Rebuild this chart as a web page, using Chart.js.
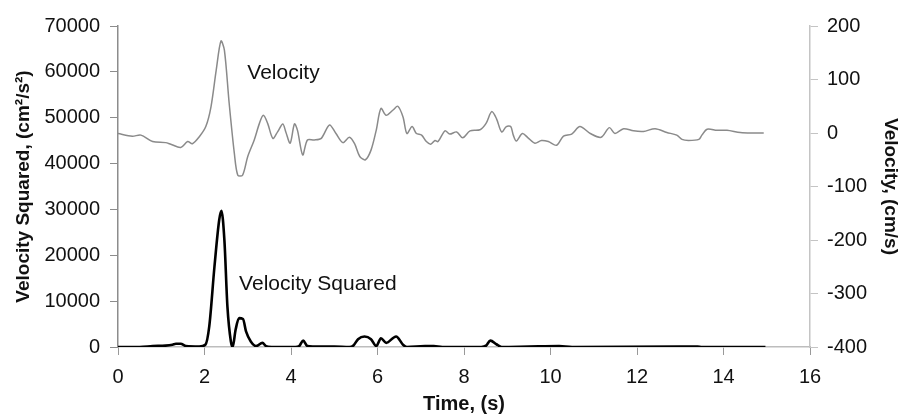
<!DOCTYPE html>
<html>
<head>
<meta charset="utf-8">
<script src="https://cdn.jsdelivr.net/npm/chart.js@4"></script>
<style>
  html, body { margin: 0; padding: 0; background: #fff; }
  #wrap { width: 902px; height: 415px; }
</style>
</head>
<body>
<div id="wrap"><canvas id="grafico" width="902" height="415"></canvas></div>
<script>
// tempo (s) e velocidade (cm/s)
const timeV = [0, 0.33, 0.53, 0.80, 1.10, 1.22, 1.45, 1.61, 1.72, 1.88, 2.03, 2.15, 2.27, 2.38, 2.46, 2.57, 2.69, 2.77, 2.88, 3.00,
    3.15, 3.27, 3.36, 3.46, 3.58, 3.69, 3.81, 3.88, 3.98, 4.08, 4.15, 4.27, 4.38, 4.54, 4.70, 4.89, 5.04, 5.20, 5.35, 5.47,
    5.59, 5.72, 5.85, 5.97, 6.08, 6.20, 6.36, 6.47, 6.59, 6.68, 6.80, 6.90, 7.02, 7.13, 7.23, 7.33, 7.40, 7.56, 7.67, 7.83,
    7.97, 8.14, 8.37, 8.51, 8.64, 8.75, 8.87, 8.98, 9.08, 9.14, 9.21, 9.35, 9.48, 9.64, 9.79, 9.95, 10.14, 10.30, 10.49, 10.68,
    10.92, 11.17, 11.36, 11.49, 11.69, 11.92, 12.15, 12.42, 12.69, 12.92, 13.04, 13.19, 13.43, 13.50, 13.62, 13.85, 14.08, 14.39, 14.66, 14.93]
const velocity = [-1, -6, -4, -16, -18, -21, -27, -16, -20, -7, 12, 49, 117, 172, 155, 56, -38, -79, -79, -44,
    -13, 18, 33, 18, -10, 2, 17, 2, -19, 17, 5, -41, -13, -13, -10, 15, -1, -18, -8, -20,
    -44, -50, -32, 5, 46, 33, 43, 50, 30, -1, 12, -1, -4, -16, -21, -14, -16, 4, -2, 2,
    -9, 4, 6, 18, 40, 27, 2, 12, 12, -4, -15, -1, -9, -19, -14, -16, -23, -6, -2, 12,
    -1, -8, 10, -1, 8, 4, 3, 8, 1, -4, -12, -14, -12, -4, 7, 5, 5, 1, 0, 0]

// tempo (s) e velocidade ao quadrado (cm2/s2)
const timeVS = [0, 0.50, 0.80, 1.10, 1.26, 1.34, 1.45, 1.57, 1.88, 2.02, 2.11, 2.23, 2.34, 2.39, 2.46, 2.53, 2.61, 2.65, 2.72, 2.80,
    2.89, 2.96, 3.07, 3.19, 3.34, 3.42, 3.55, 4.10, 4.19, 4.28, 4.38, 4.50, 5.00, 5.35, 5.45, 5.55, 5.70, 5.85, 5.97, 6.08,
    6.20, 6.43, 6.59, 6.68, 7.10, 7.30, 7.50, 8.40, 8.51, 8.61, 8.75, 8.87, 9.50, 10.20, 10.50, 13.00, 13.40, 13.50, 14.97]
const velocitySquared = [0, 0, 200, 300, 500, 700, 700, 200, 100, 500, 4500, 17500, 27700, 29700, 23300, 8800, 1200, 0, 3800, 6300,
    6100, 3400, 1200, 200, 900, 200, 0, 0, 200, 1400, 200, 100, 100, 0, 400, 1700, 2300, 1700, 200, 1900,
    900, 2300, 500, 0, 200, 200, 0, 0, 300, 1400, 600, 0, 100, 200, 0, 100, 100, 0, 0]

// eixos
const timeTicks = [0, 2, 4, 6, 8, 10, 12, 14, 16]
const vsTicks = [0, 10000, 20000, 30000, 40000, 50000, 60000, 70000]
const vTicks = [-400, -300, -200, -100, 0, 100, 200]

// rotulos dentro do grafico
const notes = [
    { text: 'Velocity', x: 2.99, y: 112, axis: 'y2' },
    { text: 'Velocity Squared', x: 2.80, y: 13600, axis: 'y' }
]

const pontos = (xs, ys) => xs.map((x, i) => ({ x: x, y: ys[i] }))

const fonte = "'Liberation Sans', Arial, sans-serif"

// escreve os rotulos usando as escalas
const rotulos = {
    id: 'rotulos',
    afterDatasetsDraw(chart) {
        const ctx = chart.ctx
        ctx.save()
        ctx.font = '21px ' + fonte
        ctx.fillStyle = '#111'
        ctx.textAlign = 'left'
        ctx.textBaseline = 'middle'
        notes.forEach((n) => {
            const px = chart.scales.x.getPixelForValue(n.x)
            const py = chart.scales[n.axis].getPixelForValue(n.y)
            ctx.fillText(n.text, px, py)
        })
        ctx.restore()
    }
}

// sem separador de milhar
const semVirgula = (v) => String(v)

new Chart(document.getElementById('grafico'), {
    type: 'line',
    data: {
        datasets: [{
            label: 'Velocity Squared',
            data: pontos(timeVS, velocitySquared),
            yAxisID: 'y',
            borderColor: '#000',
            borderWidth: 2.6,
            pointRadius: 0,
            cubicInterpolationMode: 'monotone'
        }, {
            label: 'Velocity',
            data: pontos(timeV, velocity),
            yAxisID: 'y2',
            borderColor: '#8a8a8a',
            borderWidth: 1.5,
            pointRadius: 0,
            tension: 0.3
        }]
    },
    options: {
        responsive: false,
        animation: false,
        layout: { padding: { top: 26, left: 0, right: 0, bottom: 0 } },
        plugins: {
            legend: { display: false },
            tooltip: { enabled: false }
        },
        scales: {
            x: {
                type: 'linear',
                min: 0,
                max: 16,
                afterBuildTicks: (s) => { s.ticks = timeTicks.map((v) => ({ value: v })) },
                afterFit: (s) => { s.height = 68 },
                border: { color: '#bdbdbd', width: 1.5 },
                grid: { drawOnChartArea: false, tickLength: 8, color: '#999' },
                ticks: { color: '#111', padding: 10, maxRotation: 0, callback: semVirgula, font: { family: fonte, size: 20 } },
                title: {
                    display: true, text: 'Time, (s)', color: '#111',
                    padding: { top: 0, bottom: 0 },
                    font: { family: fonte, size: 20, weight: 'bold', lineHeight: 1.1 }
                }
            },
            y: {
                position: 'left',
                min: 0,
                max: 70000,
                afterBuildTicks: (s) => { s.ticks = vsTicks.map((v) => ({ value: v })) },
                afterFit: (s) => { s.width = 118 },
                border: { color: '#8c8c8c', width: 1.5 },
                grid: { drawOnChartArea: false, tickLength: 8, color: '#8c8c8c' },
                ticks: { color: '#111', padding: 10, callback: semVirgula, font: { family: fonte, size: 20 } },
                title: {
                    display: true, text: 'Velocity Squared, (cm²/s²)', color: '#111',
                    padding: { top: 12, bottom: 0 },
                    font: { family: fonte, size: 19, weight: 'bold', lineHeight: 1.2 }
                }
            },
            y2: {
                position: 'right',
                min: -400,
                max: 200,
                afterBuildTicks: (s) => { s.ticks = vTicks.map((v) => ({ value: v })) },
                afterFit: (s) => { s.width = 92 },
                border: { color: '#c4c4c4', width: 1.5 },
                grid: { drawOnChartArea: false, tickLength: 8, color: '#c4c4c4' },
                ticks: { color: '#111', padding: 9, callback: semVirgula, font: { family: fonte, size: 20 } },
                title: {
                    display: true, text: 'Velocity, (cm/s)', color: '#111',
                    padding: { top: 0, bottom: 0 },
                    font: { family: fonte, size: 19, weight: 'bold', lineHeight: 1.2 }
                }
            }
        }
    },
    plugins: [rotulos]
})
</script>
</body>
</html>
